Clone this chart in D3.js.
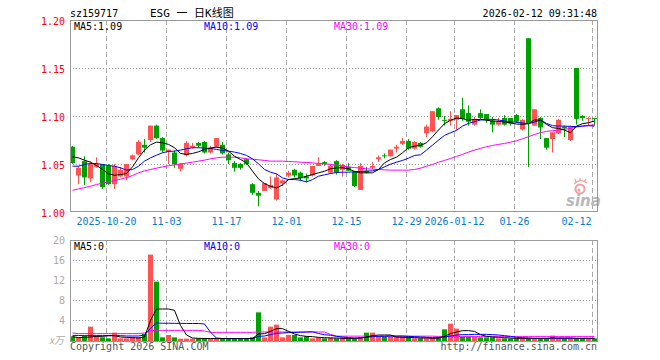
<!DOCTYPE html>
<html>
<head>
<meta charset="utf-8">
<script src="https://cdn.jsdelivr.net/npm/d3@7"></script>
<style>
  body { margin: 0; background: #fff; }
  text { font-family: "DejaVu Sans Mono", "Liberation Mono", monospace; font-size: 10px; }
</style>
</head>
<body>
<svg id="chart" width="660" height="360"></svg>
<script>
// trading days, 2025-10-10 .. 2026-02-12
var dates = [
  "2025-10-10","2025-10-13","2025-10-14","2025-10-15","2025-10-16","2025-10-17","2025-10-20","2025-10-21",
  "2025-10-22","2025-10-23","2025-10-24","2025-10-27","2025-10-28","2025-10-29","2025-10-30","2025-10-31",
  "2025-11-03","2025-11-04","2025-11-05","2025-11-06","2025-11-07","2025-11-10","2025-11-11","2025-11-12",
  "2025-11-13","2025-11-14","2025-11-17","2025-11-18","2025-11-19","2025-11-20","2025-11-21","2025-11-24",
  "2025-11-25","2025-11-26","2025-11-27","2025-11-28","2025-12-01","2025-12-02","2025-12-03","2025-12-04",
  "2025-12-05","2025-12-08","2025-12-09","2025-12-10","2025-12-11","2025-12-12","2025-12-15","2025-12-16",
  "2025-12-17","2025-12-18","2025-12-19","2025-12-22","2025-12-23","2025-12-24","2025-12-25","2025-12-26",
  "2025-12-29","2025-12-30","2025-12-31","2026-01-05","2026-01-06","2026-01-07","2026-01-08","2026-01-09",
  "2026-01-12","2026-01-13","2026-01-14","2026-01-15","2026-01-16","2026-01-19","2026-01-20","2026-01-21",
  "2026-01-22","2026-01-23","2026-01-26","2026-01-27","2026-01-28","2026-01-29","2026-01-30","2026-02-02",
  "2026-02-03","2026-02-04","2026-02-05","2026-02-06","2026-02-09","2026-02-10","2026-02-11","2026-02-12"
];

var open = [
  1.068,1.038,1.053,1.035,1.047,1.050,1.048,1.029,1.037,1.037,
  1.055,1.060,1.070,1.075,1.090,1.077,1.063,1.062,1.045,1.059,
  1.067,1.072,1.073,1.062,1.068,1.070,1.060,1.051,1.050,1.055,
  1.029,1.020,1.022,1.025,1.013,1.030,1.038,1.044,1.041,1.037,
  1.038,1.048,1.052,1.041,1.053,1.044,1.047,1.042,1.023,1.043,
  1.046,1.055,1.059,1.058,1.066,1.071,1.074,1.066,1.072,1.082,
  1.084,1.108,1.096,1.095,1.096,1.107,1.103,1.091,1.103,1.102,
  1.095,1.091,1.098,1.098,1.101,1.086,1.181,1.090,1.098,1.077,
  1.076,1.082,1.089,1.075,1.150,1.100,1.097,1.098
];
var close = [
  1.051,1.046,1.036,1.050,1.050,1.026,1.029,1.048,1.044,1.050,
  1.059,1.073,1.067,1.090,1.077,1.064,1.065,1.050,1.050,1.072,
  1.069,1.069,1.062,1.067,1.077,1.061,1.054,1.046,1.046,1.050,
  1.020,1.017,1.030,1.028,1.036,1.033,1.041,1.038,1.035,1.035,
  1.048,1.050,1.050,1.048,1.041,1.049,1.043,1.027,1.048,1.041,
  1.048,1.057,1.058,1.065,1.068,1.074,1.066,1.073,1.068,1.089,
  1.105,1.099,1.095,1.097,1.101,1.097,1.094,1.097,1.098,1.096,
  1.091,1.094,1.091,1.092,1.094,1.096,1.092,1.107,1.088,1.067,
  1.083,1.096,1.087,1.089,1.097,1.098,1.098,1.097
];
var high = [
  1.069,1.048,1.058,1.053,1.057,1.050,1.050,1.050,1.047,1.050,
  1.060,1.075,1.076,1.090,1.091,1.078,1.065,1.064,1.051,1.074,
  1.072,1.073,1.074,1.069,1.077,1.073,1.062,1.053,1.051,1.056,
  1.030,1.022,1.030,1.037,1.040,1.034,1.043,1.045,1.042,1.040,
  1.048,1.057,1.053,1.050,1.054,1.050,1.051,1.043,1.051,1.047,
  1.052,1.059,1.061,1.065,1.070,1.077,1.076,1.074,1.073,1.091,
  1.105,1.109,1.100,1.105,1.101,1.119,1.111,1.099,1.107,1.102,
  1.099,1.098,1.101,1.098,1.102,1.097,1.181,1.107,1.099,1.077,
  1.083,1.097,1.090,1.090,1.150,1.101,1.099,1.098
];
var low = [
  1.050,1.029,1.028,1.031,1.046,1.024,1.028,1.024,1.036,1.033,
  1.054,1.059,1.062,1.073,1.076,1.062,1.050,1.046,1.042,1.058,
  1.066,1.067,1.061,1.061,1.067,1.060,1.050,1.042,1.044,1.049,
  1.018,1.006,1.022,1.024,1.012,1.027,1.036,1.036,1.032,1.031,
  1.037,1.048,1.048,1.040,1.039,1.037,1.043,1.026,1.023,1.040,
  1.045,1.052,1.056,1.058,1.062,1.070,1.065,1.065,1.067,1.078,
  1.083,1.096,1.090,1.090,1.085,1.095,1.090,1.090,1.097,1.093,
  1.083,1.090,1.090,1.090,1.093,1.085,1.047,1.090,1.076,1.065,
  1.062,1.081,1.078,1.074,1.091,1.095,1.090,1.090
];

// price moving averages as drawn
var ma5 = [
  1.0575,1.0564,1.054,1.0519,1.0484,1.0443,1.0397,1.0383,1.039,1.0401,
  1.047,1.0564,1.0645,1.07,1.0728,1.0721,1.0704,1.0669,1.061,1.06,
  1.061,1.0627,1.0652,1.0666,1.0676,1.0666,1.0634,1.0582,1.0547,1.0512,
  1.0425,1.0345,1.0296,1.0268,1.0251,1.0282,1.0338,1.0348,1.0355,1.0373,
  1.039,1.0408,1.0425,1.045,1.046,1.046,1.045,1.0422,1.0408,1.0408,
  1.0408,1.0443,1.0512,1.0547,1.0571,1.0617,1.0669,1.0686,1.0693,1.0721,
  1.0784,1.0854,1.092,1.0955,1.0979,1.0972,1.0958,1.0962,1.0965,1.0955,
  1.0948,1.0944,1.0937,1.093,1.0916,1.0913,1.092,1.0958,1.0958,1.0913,
  1.0878,1.0871,1.0854,1.0826,1.0895,1.092,1.093,1.0948
];
var ma10 = [
  1.0477,1.0477,1.0495,1.0505,1.0505,1.0495,1.0484,1.0477,1.046,1.0436,
  1.0443,1.0477,1.053,1.0564,1.0592,1.0617,1.0631,1.0634,1.0645,1.0659,
  1.0669,1.0669,1.0666,1.0662,1.0652,1.0641,1.0634,1.0624,1.061,1.0589,
  1.0554,1.0502,1.0443,1.0415,1.0397,1.0355,1.0338,1.0338,1.0331,1.0314,
  1.0338,1.0373,1.0387,1.0401,1.0411,1.0415,1.0415,1.0418,1.0422,1.0425,
  1.0429,1.0443,1.047,1.0498,1.0519,1.0537,1.0561,1.0589,1.0596,1.0645,
  1.0697,1.0749,1.0798,1.0826,1.085,1.0895,1.0923,1.0941,1.0958,1.0965,
  1.0965,1.0958,1.0948,1.0941,1.0934,1.0927,1.092,1.0937,1.0958,1.0923,
  1.0899,1.0895,1.0895,1.0892,1.0889,1.0895,1.0899,1.0895
];
var ma30 = [
  1.0226,1.024,1.0254,1.0268,1.0286,1.03,1.0314,1.0328,1.0341,1.0359,
  1.038,1.0408,1.0429,1.0443,1.0456,1.047,1.0481,1.0491,1.0502,1.0509,
  1.0519,1.053,1.054,1.0554,1.0564,1.0571,1.0571,1.0571,1.0564,1.0554,
  1.055,1.0544,1.0537,1.053,1.053,1.053,1.0526,1.0523,1.0519,1.0516,
  1.0512,1.0505,1.0502,1.0495,1.0488,1.0481,1.047,1.0463,1.0456,1.045,
  1.0446,1.0443,1.0439,1.0436,1.0436,1.0436,1.0436,1.0443,1.0456,1.0477,
  1.0495,1.0519,1.0537,1.0558,1.0579,1.06,1.0624,1.0645,1.0662,1.068,
  1.0693,1.0704,1.0714,1.0728,1.0742,1.0763,1.0784,1.0808,1.0826,1.084,
  1.0847,1.0854,1.0861,1.0871,1.0885,1.0895,1.0902,1.0909
];

// volume (x 10k) and its averages
var volume = [
  0.73,0.53,0.87,2.67,0.87,0.53,0.33,1.47,0.33,0.33,
  0.6,0.6,1.2,17.07,11.67,0.53,1.0,0.53,0.27,0.27,
  0.27,0.33,0.33,0.27,0.27,0.27,0.27,0.27,0.27,0.27,
  0.53,5.53,0.53,2.67,3.07,0.53,1.0,1.0,0.53,0.73,
  0.33,0.53,0.33,0.5,0.33,0.53,0.33,0.33,0.53,1.47,
  1.47,0.67,0.67,0.67,0.67,0.67,0.67,0.33,0.33,0.33,
  0.33,0.67,2.13,3.27,2.27,0.67,0.67,0.67,0.53,0.53,
  0.53,0.33,0.33,0.33,0.33,0.33,0.33,0.33,0.33,0.33,
  0.87,0.33,0.33,0.33,0.33,0.33,0.33,0.33
];
var volMa5 = [
  0.67,0.47,0.53,0.6,0.73,0.73,0.87,0.87,0.6,0.53,
  0.47,0.4,0.6,3.9,6.2,6.2,6.2,5.93,2.9,1.0,
  0.4,0.33,0.3,0.3,0.3,0.3,0.27,0.27,0.27,0.27,
  0.33,1.2,1.27,1.73,2.27,2.27,1.73,1.2,0.87,0.73,
  0.67,0.53,0.47,0.4,0.4,0.33,0.33,0.33,0.4,0.6,
  0.87,1.0,1.0,1.0,0.6,0.53,0.53,0.47,0.4,0.4,
  0.33,0.4,0.73,1.27,1.6,1.87,1.87,1.73,1.07,0.73,
  0.6,0.53,0.47,0.4,0.33,0.33,0.33,0.33,0.33,0.33,
  0.4,0.4,0.4,0.4,0.33,0.33,0.33,0.33
];
var volMa10 = [
  0.93,0.9,0.87,0.87,0.87,0.87,0.87,0.87,0.87,0.8,
  0.8,0.8,1.0,2.33,3.4,3.35,3.35,3.33,3.33,3.3,
  3.3,3.3,3.2,1.55,0.4,0.3,0.3,0.3,0.3,0.3,
  0.3,0.73,0.8,1.07,1.33,1.4,1.47,1.5,1.55,1.6,
  1.65,1.3,1.05,0.95,0.73,0.6,0.47,0.4,0.4,0.53,
  0.67,0.73,0.73,0.8,0.8,0.8,0.73,0.67,0.6,0.53,
  0.47,0.47,0.6,0.8,1.0,1.07,1.07,1.13,1.13,1.13,
  1.07,1.0,0.87,0.73,0.53,0.47,0.4,0.33,0.33,0.33,
  0.33,0.33,0.33,0.33,0.33,0.33,0.33,0.33
];
var volMa30 = [
  1.4,1.27,1.27,1.27,1.27,1.27,1.27,1.27,1.27,1.27,
  1.27,1.27,1.4,1.87,1.93,1.93,1.93,1.93,1.93,1.93,
  1.93,1.93,1.8,1.53,1.53,1.53,1.53,1.53,1.53,1.53,
  1.53,1.6,1.6,1.6,1.6,1.6,1.6,1.6,1.6,1.6,
  1.6,1.6,1.6,1.1,0.77,0.77,0.77,0.77,0.77,0.77,
  0.77,0.77,0.77,0.77,0.77,0.77,0.77,0.77,0.77,0.77,
  0.77,0.72,0.72,0.72,0.72,0.72,0.72,0.72,0.72,0.72,
  0.72,0.72,0.72,0.72,0.72,0.72,0.72,0.72,0.72,0.72,
  0.72,0.72,0.72,0.72,0.72,0.72,0.72,0.72
];

var tickDates = ["2025-10-20","2025-11-03","2025-11-17","2025-12-01","2025-12-15",
                 "2025-12-29","2026-01-12","2026-01-26","2026-02-12"];
var tickLabels = ["2025-10-20","11-03","11-17","12-01","12-15","12-29","2026-01-12","01-26","02-12"];
var priceTicks = [1.00, 1.05, 1.10, 1.15, 1.20];
var volTicks = [4, 8, 12, 16, 20];

var RED = "#ff5353", GREEN = "#00a000";
var left = 70, right = 597;
var main = {top: 20, bottom: 211};
var sub = {top: 240, bottom: 341};

var svg = d3.select("#chart");
var n = dates.length;

var x = d3.scaleLinear().domain([0, n]).range([left, left + 6 * n]);
var y = d3.scaleLinear().domain([1.00, 1.20]).range([212, 20]);
var yv = d3.scaleLinear().domain([0, 20]).range([340, 240]);

function color(i) { return close[i] >= open[i] ? RED : GREEN; }
function cx(i) { return x(i) + 2.5; }

svg.append("clipPath").attr("id", "clipMain")
  .append("rect")
  .attr("x", left).attr("y", main.top).attr("width", right - left).attr("height", main.bottom - main.top);
svg.append("clipPath").attr("id", "clipSub")
  .append("rect")
  .attr("x", left).attr("y", sub.top).attr("width", right - left).attr("height", sub.bottom - sub.top);

var tickIdx = tickDates.map(function(d) { return dates.indexOf(d); });

function drawGrid(g, box, yScale, ticks) {
  g.selectAll(".hgrid").data(ticks).enter().append("line")
    .attr("x1", left).attr("x2", right)
    .attr("y1", function(d) { return Math.round(yScale(d)) + 0.5; })
    .attr("y2", function(d) { return Math.round(yScale(d)) + 0.5; })
    .attr("stroke", "#999").attr("stroke-dasharray", "1,2");
  g.selectAll(".vgrid").data(tickIdx).enter().append("line")
    .attr("x1", function(i) { return x(i) + 0.5; })
    .attr("x2", function(i) { return x(i) + 0.5; })
    .attr("y1", box.top).attr("y2", box.bottom)
    .attr("stroke", "#aaa").attr("stroke-dasharray", "5,3");
}

// ---- main panel ----
var gMain = svg.append("g");
drawGrid(gMain, main, y, [1.05, 1.10, 1.15]);

var candles = gMain.append("g").attr("clip-path", "url(#clipMain)")
  .selectAll("g").data(d3.range(n)).enter().append("g");
candles.append("rect")
  .attr("x", function(i) { return x(i) + 2; })
  .attr("width", 1)
  .attr("y", function(i) { return y(high[i]); })
  .attr("height", function(i) { return Math.max(1, y(low[i]) - y(high[i])); })
  .attr("fill", color);
candles.append("rect")
  .attr("x", function(i) { return x(i); })
  .attr("width", 5)
  .attr("y", function(i) { return y(Math.max(open[i], close[i])); })
  .attr("height", function(i) { return Math.max(1, Math.abs(y(open[i]) - y(close[i]))); })
  .attr("fill", color);

var priceLines = [[ma30, "#ff00ff"], [ma10, "#0000ff"], [ma5, "#000000"]];
var lineP = function(arr) {
  return d3.line().x(function(d, i) { return cx(i); }).y(function(d) { return y(d); })(arr);
};
gMain.append("g").attr("clip-path", "url(#clipMain)")
  .selectAll("path").data(priceLines).enter().append("path")
  .attr("d", function(d) { return lineP(d[0]); })
  .attr("fill", "none").attr("stroke", function(d) { return d[1]; }).attr("stroke-width", 1);

// sina watermark
var wm = gMain.append("g");
wm.append("circle").attr("cx", 580).attr("cy", 189).attr("r", 4.5)
  .attr("fill", "none").attr("stroke", "#f2a0a0").attr("stroke-width", 2);
wm.append("circle").attr("cx", 579).attr("cy", 190).attr("r", 1.6).attr("fill", "#f2a0a0");
wm.append("path").attr("d", "M574,184 Q580,178 587,183 M576,182 L575,179 M580,181 L580,178 M584,182 L586,179")
  .attr("fill", "none").attr("stroke", "#f2a0a0").attr("stroke-width", 1.2);
wm.append("text").attr("x", 566).attr("y", 206)
  .style("font-family", "DejaVu Sans, sans-serif").style("font-size", "15px")
  .style("font-weight", "bold").style("font-style", "italic")
  .attr("fill", "#b8b8b8").text("sina");

gMain.append("rect")
  .attr("x", left + 0.5).attr("y", main.top + 0.5)
  .attr("width", right - left).attr("height", main.bottom - main.top)
  .attr("fill", "none").attr("stroke", "#999");

// price labels
svg.selectAll(".plabel").data(priceTicks).enter().append("text")
  .attr("x", 65).attr("y", function(d) { return y(d) + 4.5; })
  .attr("text-anchor", "end").attr("fill", "#ff0000")
  .text(function(d) { return d.toFixed(2); });

// date labels
svg.selectAll(".dlabel").data(tickIdx).enter().append("text")
  .attr("y", 225)
  .attr("fill", "#0a7ad0")
  .each(function(i, k) {
    var t = d3.select(this).text(tickLabels[k]);
    var w = tickLabels[k].length * 6;
    var gx = x(i) + 0.5;
    if (gx + w / 2 > right) t.attr("x", gx - 1).attr("text-anchor", "end");
    else t.attr("x", gx).attr("text-anchor", "middle");
  });

// MA legends
var legP = [["MA5:1.09", "#000", 74], ["MA10:1.09", "#0000ff", 204], ["MA30:1.09", "#ff00ff", 334]];
svg.selectAll(".legP").data(legP).enter().append("text")
  .attr("x", function(d) { return d[2]; }).attr("y", 30)
  .attr("fill", function(d) { return d[1]; }).text(function(d) { return d[0]; });

// ---- volume panel ----
var gSub = svg.append("g");
drawGrid(gSub, sub, yv, [4, 8, 12, 16]);

gSub.append("g").attr("clip-path", "url(#clipSub)")
  .selectAll("rect").data(d3.range(n)).enter().append("rect")
  .attr("x", function(i) { return x(i); })
  .attr("width", 5)
  .attr("y", function(i) { return yv(volume[i]); })
  .attr("height", function(i) { return yv(0) - yv(volume[i]) + 1; })
  .attr("fill", color);

var volLines = [[volMa30, "#ff00ff"], [volMa10, "#0000ff"], [volMa5, "#000000"]];
var lineV = function(arr) {
  return d3.line().x(function(d, i) { return cx(i); }).y(function(d) { return yv(d); })(arr);
};
gSub.append("g").attr("clip-path", "url(#clipSub)")
  .selectAll("path").data(volLines).enter().append("path")
  .attr("d", function(d) { return lineV(d[0]); })
  .attr("fill", "none").attr("stroke", function(d) { return d[1]; }).attr("stroke-width", 1);

gSub.append("rect")
  .attr("x", left + 0.5).attr("y", sub.top + 0.5)
  .attr("width", right - left).attr("height", sub.bottom - sub.top)
  .attr("fill", "none").attr("stroke", "#999");

svg.selectAll(".vlabel").data(volTicks).enter().append("text")
  .attr("x", 65).attr("y", function(d) { return yv(d) + 4; })
  .attr("text-anchor", "end").attr("fill", "#aaa")
  .text(function(d) { return d; });
svg.append("text").attr("x", 64).attr("y", 344).attr("text-anchor", "end")
  .attr("fill", "#aaa").style("font-style", "italic")
  .style("font-family", "Noto Sans CJK SC, sans-serif").style("font-size", "10px").text("x万");

var legV = [["MA5:0", "#000", 74], ["MA10:0", "#0000ff", 204], ["MA30:0", "#ff00ff", 334]];
svg.selectAll(".legV").data(legV).enter().append("text")
  .attr("x", function(d) { return d[2]; }).attr("y", 250)
  .attr("fill", function(d) { return d[1]; }).text(function(d) { return d[0]; });

// ---- header / footer ----
svg.append("text").attr("x", 70).attr("y", 17).attr("fill", "#000").text("sz159717");
svg.append("text").attr("x", 150).attr("y", 17).attr("fill", "#000")
  .style("font-family", "DejaVu Sans Mono, Noto Sans CJK SC, monospace").style("font-size", "11px")
  .text("ESG 一 日K线图");
svg.append("text").attr("x", 597).attr("y", 17).attr("text-anchor", "end").attr("fill", "#000")
  .text("2026-02-12 09:31:48");
svg.append("text").attr("x", 70).attr("y", 350).attr("fill", "#555").text("Copyright 2026 SINA.COM");
svg.append("text").attr("x", 597).attr("y", 350).attr("text-anchor", "end").attr("fill", "#555")
  .text("http://finance.sina.com.cn");
</script>
</body>
</html>
